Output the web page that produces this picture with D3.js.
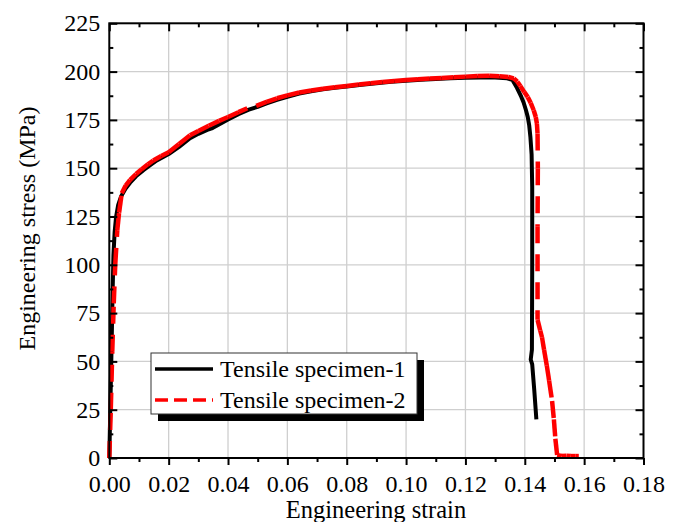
<!DOCTYPE html>
<html><head><meta charset="utf-8">
<script src="https://cdn.jsdelivr.net/npm/d3@7"></script>
<style>
body{margin:0;background:#fff}
svg text{font-family:"Liberation Serif","Times New Roman",serif;fill:#000}
</style></head>
<body><svg id="c" width="678" height="522"></svg>
<script>
// ---- data ----
const seriesNames = ["Tensile specimen-1", "Tensile specimen-2"];
const strain1 = [0,0.0004,0.0008,0.0011,0.0014,0.0018,0.0023,0.003,0.004,0.0055,0.007,0.009,0.0115,0.014,0.016,0.02,0.0235,0.0272,0.03,0.033,0.0345,0.036,0.038,0.04,0.0435,0.047,0.05,0.053,0.0565,0.06,0.064,0.068,0.072,0.076,0.08,0.085,0.09,0.095,0.10,0.105,0.11,0.115,0.12,0.125,0.13,0.134,0.1358,0.1374,0.1388,0.1396,0.1404,0.141,0.1415,0.1419,0.1423,0.1425,0.1425,0.1424,0.1420,0.1425,0.1432,0.1439];
const stress1 = [0,30,60,85,105,117,125,131,135.5,139.5,142.5,145.8,149,151.8,154,157.3,161,165.5,167.8,169.8,170.6,171.8,173.5,175.2,178,180.3,181.8,183.5,185.4,187,188.6,189.8,190.8,191.6,192.3,193.2,194,194.7,195.3,195.8,196.2,196.5,196.8,197,196.9,196.5,195.8,191.5,187,184,180,176.5,172,166,157,140,100,56,51,48.5,35,20];
const strain2 = [0,0.0005,0.001,0.0015,0.002,0.0027,0.0033,0.0042,0.0055,0.007,0.009,0.0109,0.013,0.0148,0.0175,0.02,0.0235,0.0272,0.03,0.0335,0.037,0.04,0.0435,0.0465,0.048,0.0495,0.053,0.0565,0.06,0.064,0.068,0.072,0.076,0.08,0.084,0.088,0.092,0.096,0.10,0.104,0.108,0.112,0.116,0.12,0.124,0.128,0.1315,0.1345,0.1363,0.1375,0.1385,0.1398,0.141,0.142,0.143,0.1437,0.1441,0.1443,0.1444,0.1443,0.1443,0.1452,0.1458,0.1465,0.1474,0.1482,0.1492,0.1498,0.1503,0.1509,0.1525,0.154,0.1555,0.157,0.1582];
const stress2 = [0,25,55,80,100,118,127,137,141,144,147,149.5,152,154,156.3,158.3,162.5,167,169.3,172,174.5,176.5,179,181,null,182.3,184.3,186.2,187.7,189.2,190.2,191.1,191.9,192.6,193.3,194,194.6,195.1,195.6,196,196.4,196.7,197.1,197.4,197.7,197.8,197.6,197.2,196.5,194.8,192.5,189.5,186.8,183.8,180,176.5,173,168,150,120,71.5,66,62.5,56,48,40,29.5,20,10,1.5,1,1.2,1,1,1];
const xTickValues = [0,0.02,0.04,0.06,0.08,0.10,0.12,0.14,0.16,0.18];
const yTickValues = [0,25,50,75,100,125,150,175,200,225];
const xTitle = "Engineering strain";
const yTitle = "Engineering stress (MPa)";

// ---- layout ----
const L = 109.3, R = 643.5, T = 23.3, B = 458;
const svg = d3.select("#c");
const x = d3.scaleLinear().domain([0, 0.18]).range([L, R]);
const y = d3.scaleLinear().domain([0, 225]).range([B, T]);
const mid = a => a.slice(0, -1).map((v, i) => (v + a[i + 1]) / 2);
const xMinor = mid(xTickValues), yMinor = mid(yTickValues);

// grid
const grid = svg.append("g").attr("stroke", "#cfcfcf").attr("stroke-width", 1.3);
grid.selectAll(".gx").data(xTickValues.slice(1, -1)).join("line")
  .attr("x1", d => x(d)).attr("x2", d => x(d)).attr("y1", T).attr("y2", B);
grid.selectAll(".gy").data(yTickValues.slice(1, -1)).join("line")
  .attr("x1", L).attr("x2", R).attr("y1", d => y(d)).attr("y2", d => y(d));

// series 1 (black, solid)
const line = d3.line().defined(d => d[1] != null).x(d => x(d[0])).y(d => y(d[1]));
const d1 = strain1.map((s, i) => [s, stress1[i]]);
svg.append("path").datum(d1).attr("d", line)
  .attr("fill", "none").attr("stroke", "#000").attr("stroke-width", 4).attr("stroke-linejoin", "round");

// series 2 (red, dash pattern restarted on every segment, as in the source plot)
const d2 = strain2.map((s, i) => [s, stress2[i]]);
const segs = [];
for (let i = 0; i < d2.length - 1; i++) {
  if (d2[i][1] != null && d2[i + 1][1] != null) segs.push([d2[i], d2[i + 1]]);
}
svg.append("g").selectAll("path").data(segs).join("path")
  .attr("d", d => line(d))
  .attr("fill", "none")
  .attr("stroke", "#ff0000").attr("stroke-width", 4.5)
  .attr("stroke-dasharray", "17,11").attr("stroke-linecap", "butt");

// axes
function style(g) {
  g.select(".domain").remove();
  g.selectAll("line").attr("stroke", "#000").attr("stroke-width", 2);
  g.selectAll("text").style("font-size", "24px").attr("fill", "#000");
}
svg.append("g").attr("transform", `translate(0,${B})`)
  .call(d3.axisBottom(x).tickValues(xTickValues).tickFormat(d3.format(".2f")).tickSize(7).tickPadding(10).tickSizeOuter(0)).call(style);
svg.append("g").attr("transform", `translate(0,${B})`)
  .call(d3.axisBottom(x).tickValues(xMinor).tickFormat("").tickSize(4).tickSizeOuter(0)).call(style);
svg.append("g").attr("transform", `translate(0,${T})`)
  .call(d3.axisTop(x).tickValues(xTickValues).tickFormat("").tickSize(-8).tickSizeOuter(0)).call(style);
svg.append("g").attr("transform", `translate(0,${T})`)
  .call(d3.axisTop(x).tickValues(xMinor).tickFormat("").tickSize(-4).tickSizeOuter(0)).call(style);
svg.append("g").attr("transform", `translate(${L},0)`)
  .call(d3.axisLeft(y).tickValues(yTickValues).tickFormat(d3.format("d")).tickSize(-8).tickPadding(9).tickSizeOuter(0)).call(style);
svg.append("g").attr("transform", `translate(${L},0)`)
  .call(d3.axisLeft(y).tickValues(yMinor).tickFormat("").tickSize(-4).tickSizeOuter(0)).call(style);
svg.append("g").attr("transform", `translate(${R},0)`)
  .call(d3.axisRight(y).tickValues(yTickValues).tickFormat("").tickSize(-8).tickSizeOuter(0)).call(style);
svg.append("g").attr("transform", `translate(${R},0)`)
  .call(d3.axisRight(y).tickValues(yMinor).tickFormat("").tickSize(-4).tickSizeOuter(0)).call(style);

// frame
svg.append("rect").attr("x", L).attr("y", T).attr("width", R - L).attr("height", B - T)
  .attr("fill", "none").attr("stroke", "#000").attr("stroke-width", 2);

// titles
svg.append("text").attr("x", 376).attr("y", 518).attr("text-anchor", "middle")
  .style("font-size", "24.5px").text(xTitle);
svg.append("text").attr("transform", "translate(35,228.5) rotate(-90)").attr("text-anchor", "middle")
  .style("font-size", "24px").text(yTitle);

// legend
const lg = svg.append("g");
lg.append("rect").attr("x", 158).attr("y", 360).attr("width", 266).attr("height", 61).attr("fill", "#000");
lg.append("rect").attr("x", 151).attr("y", 353).attr("width", 266).attr("height", 61)
  .attr("fill", "#fff").attr("stroke", "#333").attr("stroke-width", 1);
const rows = [369, 400];
lg.append("line").attr("x1", 155).attr("x2", 213).attr("y1", rows[0]).attr("y2", rows[0])
  .attr("stroke", "#000").attr("stroke-width", 3.5);
lg.append("line").attr("x1", 155).attr("x2", 213).attr("y1", rows[1]).attr("y2", rows[1])
  .attr("stroke", "#ff0000").attr("stroke-width", 3.5).attr("stroke-dasharray", "13,6");
seriesNames.forEach((n, i) => {
  lg.append("text").attr("x", 220).attr("y", rows[i] + 8).style("font-size", "24px").text(n);
});
</script></body></html>
